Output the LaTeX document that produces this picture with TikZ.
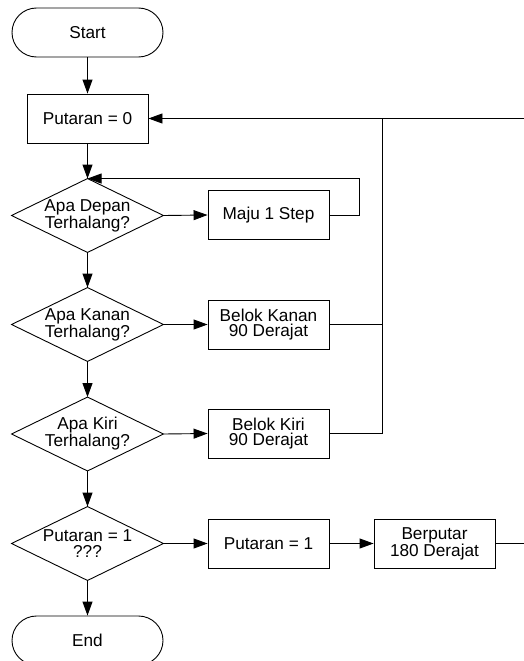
\documentclass[tikz,border=0pt]{standalone}
\usepackage{fontspec}
\setmainfont{Liberation Sans}
\usetikzlibrary{arrows.meta}
\begin{document}
\begin{tikzpicture}[x=1pt,y=-1pt,
  base/.style={draw, line width=0.9pt, font=\fontsize{17.2}{15.5}\selectfont, align=center, inner sep=0pt},
  term/.style={base, rounded corners=24.5pt, minimum width=151pt, minimum height=49pt},
  proc/.style={base, minimum width=121pt, minimum height=49pt},
  dec/.style={base, draw=none, minimum width=151pt, minimum height=73pt},
  arr/.style={-{Triangle[length=14pt,width=10pt]}, line width=0.9pt},
  ln/.style={line width=0.9pt}]
\useasboundingbox (0,0) rectangle (524,661);
\node[term] (start) at (87.5,32.5) {Start};
\node[proc] (p0) at (87.5,118.5) {Putaran = 0};
\node[dec] (d1) at (87.5,215.5) {Apa Depan\\Terhalang?};
\node[proc] (maju) at (268.5,215) {Maju 1 Step};
\node[dec] (d2) at (87.5,324.5) {Apa Kanan\\Terhalang?};
\node[proc] (bkanan) at (268.5,324.5) {Belok Kanan\\90 Derajat};
\node[dec] (d3) at (87.5,434) {Apa Kiri\\Terhalang?};
\node[proc] (bkiri) at (268.5,433.5) {Belok Kiri\\90 Derajat};
\node[dec] (d4) at (87.5,543.5) {Putaran = 1\\???};
\node[proc] (p1) at (268.5,543.5) {Putaran = 1};
\node[proc] (berp) at (434.5,543.5) {Berputar\\180 Derajat};
\node[term] (end) at (87.5,640.5) {End};
\coordinate (jt) at (382,118.5);
\coordinate (rt) at (524,118.5);
\coordinate (rb) at (524,543.5);
\foreach \d in {d1,d2,d3,d4}
  \draw[ln] (\d.north) -- (\d.east) -- (\d.south) -- (\d.west) -- cycle;
\draw[arr] (start.south) -- (p0.north);
\draw[arr] (p0.south) -- (d1.north);
\draw[arr] (d1.east) -- (maju.west);
\draw[arr] (maju.east) -- ++(30,0) |- (d1.north);
\draw[arr] (d1.south) -- (d2.north);
\draw[arr] (d2.east) -- (bkanan.west);
\draw[ln] (bkanan.east) -- (bkanan.east -| jt);
\draw[arr] (d2.south) -- (d3.north);
\draw[arr] (d3.east) -- (bkiri.west);
\draw[ln] (bkiri.east) -| (jt);
\draw[arr] (d3.south) -- (d4.north);
\draw[arr] (d4.east) -- (p1.west);
\draw[arr] (p1.east) -- (berp.west);
\draw[ln] (berp.east) -- (rb);
\draw[arr] (d4.south) -- (end.north);
\draw[arr] (rt) -- (p0.east);
\end{tikzpicture}
\end{document}
